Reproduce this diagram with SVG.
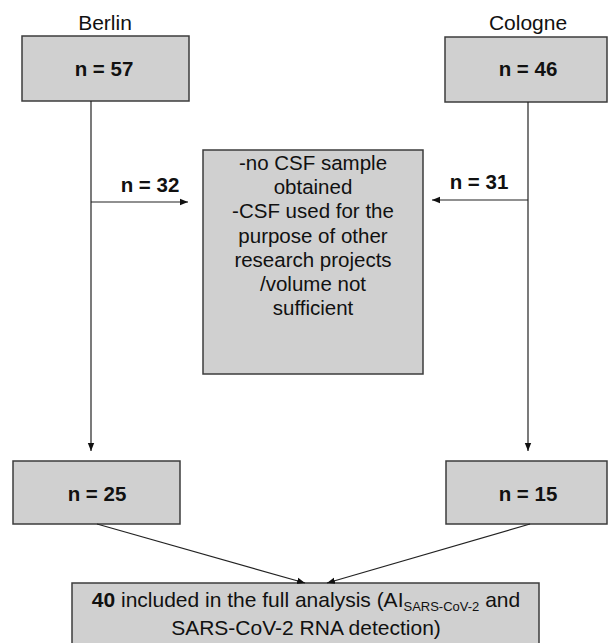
<svg xmlns="http://www.w3.org/2000/svg" width="608" height="643" viewBox="0 0 608 643">
<style>
.box{fill:#d0d0d0;stroke:#3c3c3c;stroke-width:1.5}
.t{font-family:"Liberation Sans",Arial,sans-serif;fill:#111;text-anchor:middle}
.b{font-weight:bold;font-size:20.5px}
.m{font-size:20.5px}
.h{font-size:21px}
.c{stroke:#222;stroke-width:1.2;fill:none}
</style>
<defs>
<marker id="ah" viewBox="0 0 10 10" refX="10" refY="5" markerWidth="8" markerHeight="8" markerUnits="userSpaceOnUse" orient="auto">
<path d="M0,1 L10,5 L0,9 z" fill="#111"/>
</marker>
</defs>
<rect width="608" height="643" fill="#fff"/>
<g id="berlin">
<text class="t h" x="105" y="30">Berlin</text>
<rect class="box" x="22" y="36" width="167" height="65"/>
<text class="t b" x="104" y="76">n = 57</text>
</g>
<g id="cologne">
<text class="t h" x="528" y="30">Cologne</text>
<rect class="box" x="445" y="37" width="162" height="65"/>
<text class="t b" x="528" y="76">n = 46</text>
</g>
<g id="excluded">
<rect class="box" x="203" y="150" width="220" height="224"/>
<text class="t m" x="313" y="170">-no CSF sample</text>
<text class="t m" x="313" y="194">obtained</text>
<text class="t m" x="313" y="218">-CSF used for the</text>
<text class="t m" x="313" y="243">purpose of other</text>
<text class="t m" x="313" y="267">research projects</text>
<text class="t m" x="313" y="291">/volume not</text>
<text class="t m" x="313" y="315">sufficient</text>
</g>
<g id="berlin25">
<rect class="box" x="13" y="461" width="167" height="63"/>
<text class="t b" x="97" y="501">n = 25</text>
</g>
<g id="cologne15">
<rect class="box" x="446" y="461" width="161" height="63"/>
<text class="t b" x="528" y="501">n = 15</text>
</g>
<g id="final">
<rect class="box" x="72" y="583" width="467" height="62"/>
<text class="t" font-size="21" x="306" y="607"><tspan font-weight="bold">40</tspan> included in the full analysis (AI<tspan font-size="13" dy="4">SARS-CoV-2</tspan><tspan dy="-4"> and</tspan></text>
<text class="t" font-size="21" x="306" y="635">SARS-CoV-2 RNA detection)</text>
</g>
<g id="connectors">
<line class="c" x1="91" y1="101" x2="91" y2="451" marker-end="url(#ah)"/>
<line class="c" x1="528" y1="102" x2="528" y2="451" marker-end="url(#ah)"/>
<line class="c" x1="91" y1="202" x2="188" y2="202" marker-end="url(#ah)"/>
<line class="c" x1="528" y1="200" x2="432" y2="200" marker-end="url(#ah)"/>
<line class="c" x1="97" y1="524" x2="305" y2="583" marker-end="url(#ah)"/>
<line class="c" x1="530" y1="524" x2="327" y2="583" marker-end="url(#ah)"/>
<text class="t b" x="150" y="192">n = 32</text>
<text class="t b" x="479" y="189">n = 31</text>
</g>
</svg>
